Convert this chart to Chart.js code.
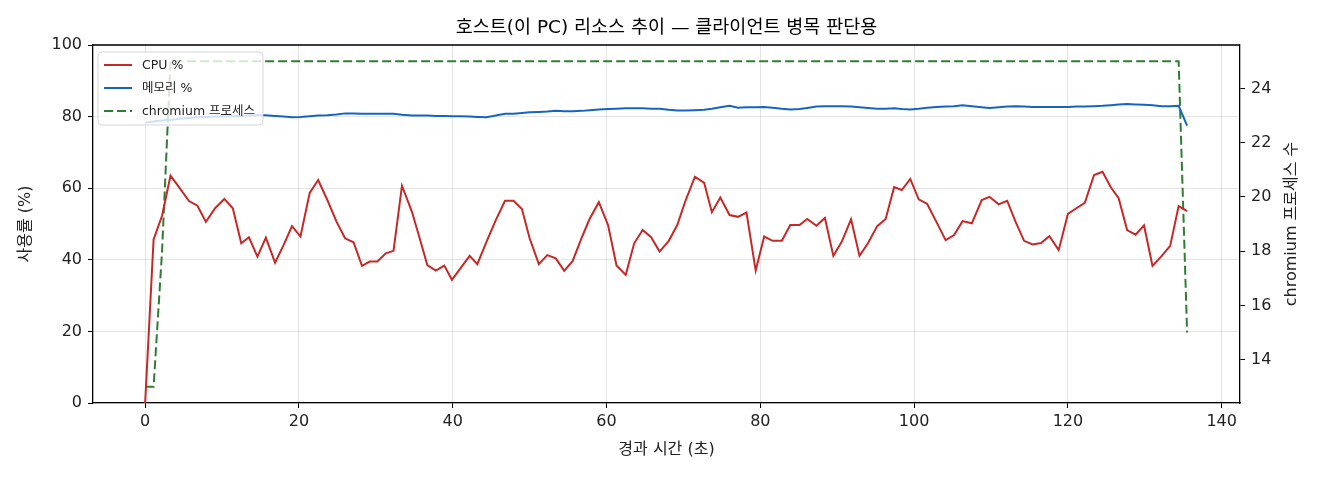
<!DOCTYPE html>
<html><head><meta charset="utf-8">
<script src="https://cdn.jsdelivr.net/npm/chart.js@4"></script>
<style>html,body{margin:0;padding:0;background:#fff}canvas{display:block}</style>
</head><body>
<canvas id="c" width="1320" height="480"></canvas>
<script>
const times = [0,1.1,2.2,3.3,4.5,5.7,6.8,7.9,9.1,10.3,11.4,12.5,13.5,14.6,15.7,16.9,18.0,19.1,20.2,21.4,22.5,23.7,24.9,26.0,27.1,28.2,29.2,30.2,31.3,32.3,33.4,34.7,35.7,36.7,37.8,38.9,39.9,41.0,42.2,43.2,44.4,45.6,46.8,47.9,49.0,50.0,51.2,52.3,53.4,54.5,55.6,56.8,57.8,59.0,60.2,61.3,62.5,63.6,64.7,65.8,66.9,68.1,69.2,70.3,71.5,72.7,73.7,74.8,76.0,77.1,78.2,79.4,80.5,81.6,82.8,83.9,85.1,86.1,87.3,88.4,89.5,90.6,91.8,92.9,94.0,95.2,96.3,97.4,98.4,99.5,100.6,101.7,102.9,104.1,105.2,106.3,107.5,108.8,109.8,111.0,112.1,113.2,114.3,115.4,116.5,117.6,118.8,120.0,121.1,122.2,123.4,124.5,125.6,126.6,127.7,128.8,129.9,131.0,132.2,133.3,134.4,135.5];
const cpu = [0,45.7,52.3,63.5,60.0,56.4,55.1,50.6,54.4,57.0,54.4,44.6,46.3,40.9,46.2,39.2,44.1,49.4,46.5,58.7,62.3,56.7,50.6,46.0,44.9,38.3,39.5,39.5,41.8,42.5,60.7,53.4,46.0,38.5,37.0,38.4,34.4,37.6,41.1,38.8,45.1,51.1,56.5,56.5,54.2,46.0,38.8,41.3,40.4,36.9,39.7,46.3,51.4,56.1,49.7,38.4,35.8,44.6,48.3,46.3,42.3,45.3,49.7,56.7,63.2,61.5,53.3,57.4,52.5,52.0,53.2,37.0,46.5,45.3,45.3,49.7,49.7,51.4,49.5,51.7,41.1,45.1,51.3,41.1,44.6,49.4,51.4,60.3,59.5,62.6,56.9,55.6,50.6,45.5,46.9,50.8,50.2,56.7,57.6,55.5,56.5,50.6,45.3,44.3,44.7,46.6,42.7,52.8,54.4,55.9,63.7,64.6,60.2,57.2,48.3,47.0,49.6,38.3,41.1,43.9,55.0,53.6];
const mem = [78.3,78.6,78.9,79.1,79.4,79.6,79.8,79.9,80.0,80.0,80.1,80.2,80.3,80.4,80.4,80.2,80.0,79.8,79.9,80.1,80.3,80.4,80.6,80.9,80.9,80.8,80.8,80.8,80.8,80.8,80.5,80.3,80.3,80.3,80.2,80.2,80.1,80.1,80.0,79.9,79.8,80.3,80.8,80.8,81.0,81.2,81.3,81.4,81.6,81.5,81.5,81.6,81.8,82.0,82.1,82.2,82.3,82.3,82.3,82.2,82.2,81.9,81.7,81.7,81.8,81.9,82.2,82.6,83.0,82.5,82.6,82.6,82.7,82.5,82.2,82.0,82.1,82.4,82.8,82.9,82.9,82.9,82.8,82.6,82.4,82.2,82.2,82.3,82.1,82.0,82.2,82.5,82.7,82.8,82.9,83.2,82.9,82.6,82.4,82.6,82.8,82.9,82.8,82.7,82.7,82.7,82.7,82.7,82.8,82.8,82.9,83.0,83.2,83.4,83.5,83.4,83.3,83.2,82.9,82.9,83.0,77.5];
const procs = [13,13,18,25,25,25,25,25,25,25,25,25,25,25,25,25,25,25,25,25,25,25,25,25,25,25,25,25,25,25,25,25,25,25,25,25,25,25,25,25,25,25,25,25,25,25,25,25,25,25,25,25,25,25,25,25,25,25,25,25,25,25,25,25,25,25,25,25,25,25,25,25,25,25,25,25,25,25,25,25,25,25,25,25,25,25,25,25,25,25,25,25,25,25,25,25,25,25,25,25,25,25,25,25,25,25,25,25,25,25,25,25,25,25,25,25,25,25,25,25,25,15];
const xTicks = [0,20,40,60,80,100,120,140];
const yTicks = [0,20,40,60,80,100];
const y1Ticks = [14,16,18,20,22,24];
const seriesNames = ['CPU %','메모리 %','chromium 프로세스'];
const titleText = '호스트(이 PC) 리소스 추이 — 클라이언트 병목 판단용';
const xTitle = '경과 시간 (초)';
const yTitle = '사용률 (%)';
const y1Title = 'chromium 프로세스 수';

const FONT = "'DejaVu Sans','Noto Sans CJK KR',sans-serif";
const RED = '#c62828', BLUE = '#1565c0', GREEN = '#2e7d32';
const GRID = 'rgba(0,0,0,0.1)';

const pts = arr => times.map((t, i) => ({x: t, y: arr[i]}));

const frameAndLegend = {
  id: 'frameAndLegend',
  afterDatasetsDraw(chart) {
    const {ctx, chartArea: a} = chart;
    ctx.save();
    const bx = a.left + 5, by = a.top + 7, bw = 165, bh = 73, r = 4;
    ctx.beginPath();
    ctx.moveTo(bx + r, by);
    ctx.arcTo(bx + bw, by, bx + bw, by + bh, r);
    ctx.arcTo(bx + bw, by + bh, bx, by + bh, r);
    ctx.arcTo(bx, by + bh, bx, by, r);
    ctx.arcTo(bx, by, bx + bw, by, r);
    ctx.closePath();
    ctx.fillStyle = 'rgba(255,255,255,0.8)';
    ctx.fill();
    ctx.strokeStyle = 'rgba(204,204,204,0.8)';
    ctx.lineWidth = 1;
    ctx.stroke();
    chart.data.datasets.forEach((ds, i) => {
      const yy = by + 13 + i * 23;
      ctx.beginPath();
      ctx.setLineDash(ds.borderDash || []);
      ctx.strokeStyle = ds.borderColor;
      ctx.lineWidth = ds.borderWidth;
      ctx.moveTo(bx + 6, yy);
      ctx.lineTo(bx + 34, yy);
      ctx.stroke();
      ctx.setLineDash([]);
      ctx.fillStyle = '#222';
      ctx.font = '12.5px ' + FONT;
      ctx.textAlign = 'left';
      ctx.textBaseline = 'middle';
      ctx.fillText(ds.label, bx + 44, yy + 1);
    });
    ctx.restore();
  },
  afterDraw(chart) {
    const {ctx, chartArea: a} = chart;
    ctx.save();
    ctx.strokeStyle = '#000';
    ctx.lineWidth = 1.3;
    ctx.beginPath();
    ctx.moveTo(a.left, a.top);
    ctx.lineTo(a.right, a.top);
    ctx.stroke();
    ctx.translate(chart.scales.y1.right - 28, (a.top + a.bottom) / 2);
    ctx.rotate(-Math.PI / 2);
    ctx.fillStyle = '#222';
    ctx.font = '16px ' + FONT;
    ctx.textAlign = 'center';
    ctx.textBaseline = 'middle';
    ctx.fillText(y1Title, 0, 0);
    ctx.restore();
  }
};

new Chart(document.getElementById('c'), {
  type: 'line',
  data: {
    datasets: [
      {label: seriesNames[0], data: pts(cpu), borderColor: RED, borderWidth: 2, yAxisID: 'y'},
      {label: seriesNames[1], data: pts(mem), borderColor: BLUE, borderWidth: 2, yAxisID: 'y'},
      {label: seriesNames[2], data: pts(procs), borderColor: GREEN, borderWidth: 2, borderDash: [9, 4], yAxisID: 'y1'}
    ]
  },
  options: {
    responsive: false,
    animation: false,
    devicePixelRatio: 1,
    elements: {point: {radius: 0}, line: {tension: 0, fill: false}},
    layout: {padding: 0},
    plugins: {
      legend: {display: false},
      tooltip: {enabled: false},
      title: {display: true, fullSize: false, text: titleText, color: '#000',
        font: {family: FONT, size: 18.5, weight: 'normal'}, padding: {top: 17.4, bottom: 5.4}}
    },
    scales: {
      x: {
        type: 'linear', position: 'bottom', min: -6.78, max: 142.38,
        afterBuildTicks: s => { s.ticks = xTicks.map(v => ({value: v})); },
        afterFit: s => { s.height = 77; },
        grid: {color: GRID, tickColor: '#000', tickLength: 5, lineWidth: 1},
        border: {color: '#000', width: 1.3},
        ticks: {color: '#222', font: {family: FONT, size: 16}, padding: 4, maxRotation: 0},
        title: {display: true, text: xTitle, color: '#222', font: {family: FONT, size: 16}, padding: {bottom: 21}}
      },
      y: {
        type: 'linear', position: 'left', min: 0, max: 100,
        afterBuildTicks: s => { s.ticks = yTicks.map(v => ({value: v})); },
        afterFit: s => { s.width = 93; },
        grid: {color: GRID, tickColor: '#000', tickLength: 5, lineWidth: 1},
        border: {color: '#000', width: 1.3},
        ticks: {color: '#222', font: {family: FONT, size: 16}, padding: 6},
        title: {display: true, text: yTitle, color: '#222', font: {family: FONT, size: 16}, padding: {top: 16}}
      },
      y1: {
        type: 'linear', position: 'right', min: 12.4, max: 25.6,
        afterBuildTicks: s => { s.ticks = y1Ticks.map(v => ({value: v})); },
        afterFit: s => { s.width = 80; },
        grid: {drawOnChartArea: false, color: GRID, tickColor: '#000', tickLength: 5},
        border: {color: '#000', width: 1.3},
        ticks: {color: '#222', font: {family: FONT, size: 16}, padding: 6}
      }
    }
  },
  plugins: [frameAndLegend]
});
</script>
</body></html>
